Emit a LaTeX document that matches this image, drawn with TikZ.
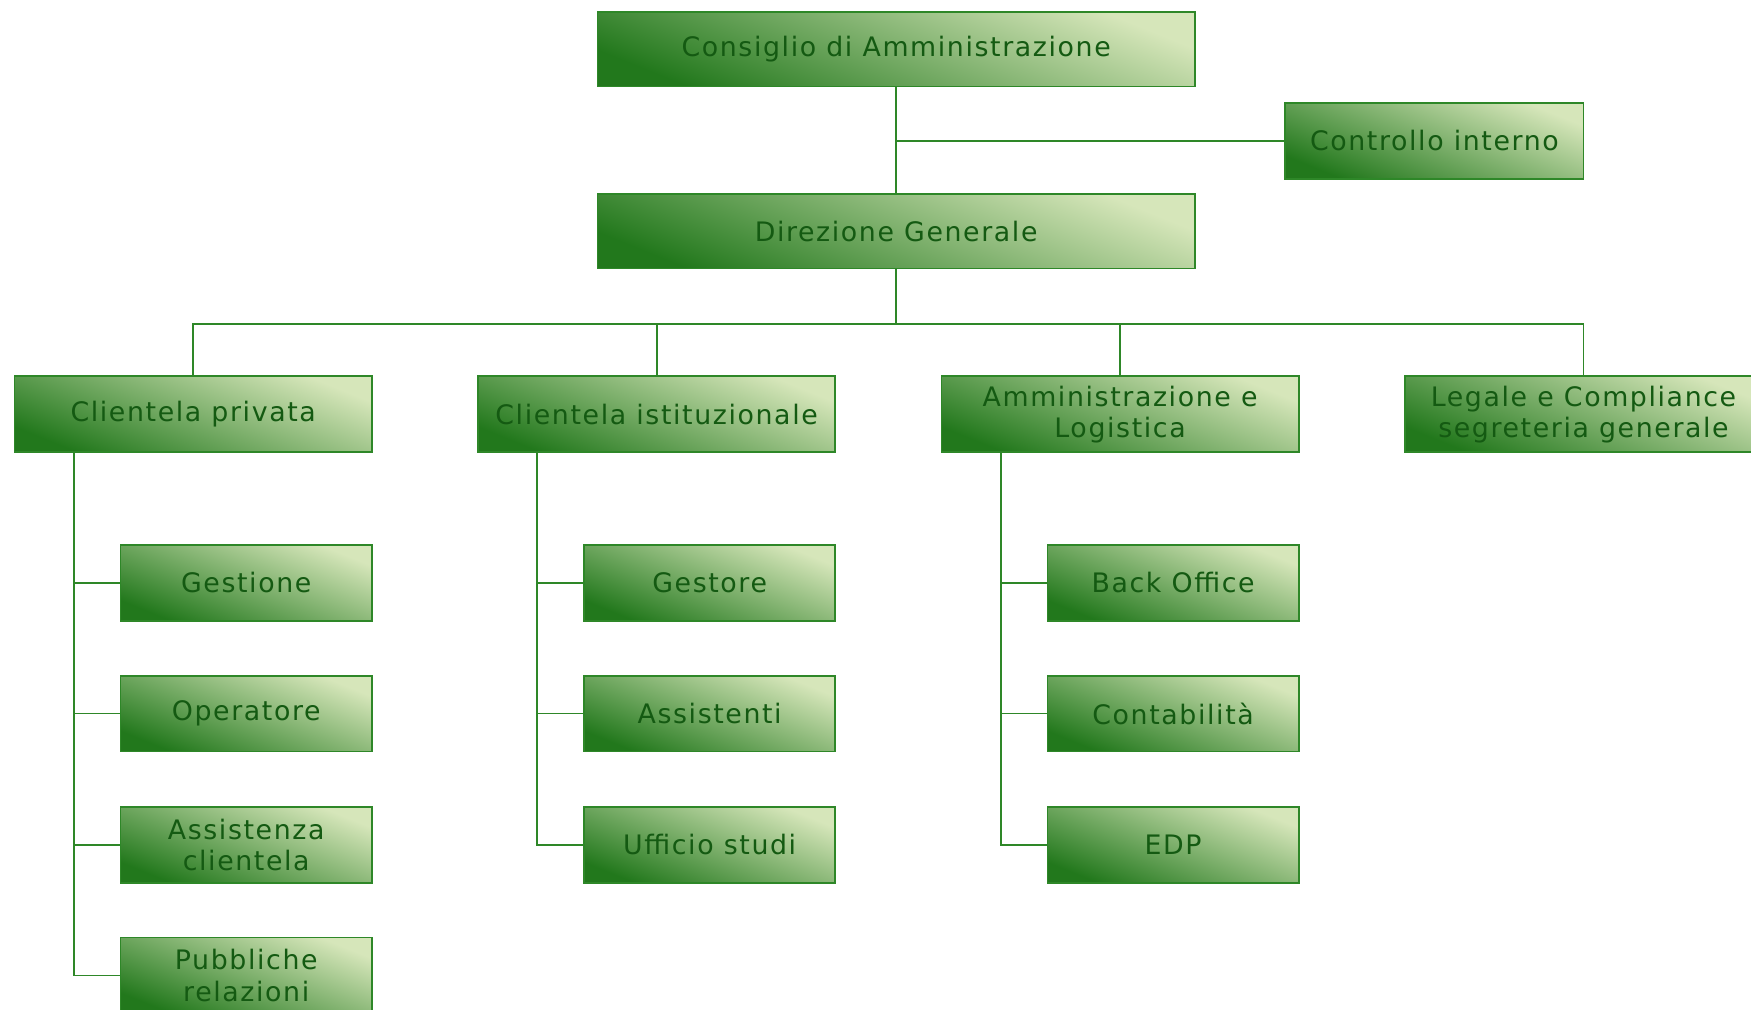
\documentclass[tikz,border=0pt]{standalone}
\usepackage{fontspec}
\setmainfont{DejaVu Sans}[LetterSpace=6]
\begin{document}
\definecolor{lineg}{RGB}{46,135,40}
\definecolor{darkg}{RGB}{34,120,28}
\definecolor{midg}{RGB}{128,174,88}
\definecolor{lightg}{RGB}{214,230,186}
\definecolor{textg}{RGB}{20,90,18}
\begin{tikzpicture}[x=0.5pt,y=-0.5pt,
  unit/.style={draw=lineg, line width=0.8pt, inner sep=0pt,
    bottom color=darkg, middle color=midg, top color=lightg, shading angle=-22,
    text=textg, font=\fontsize{12}{14}\selectfont, align=center,
    minimum width=160pt, minimum height=34pt},
  wide/.style={unit, minimum width=267.5pt, minimum height=33.5pt},
  ctrl/.style={unit, minimum width=133.5pt},
  sub/.style={unit, minimum width=112.5pt},
  link/.style={draw=lineg, line width=0.8pt}]
\useasboundingbox (0,0) rectangle (1568,904);

% top management
\node[wide] (cda) at (802.5,44) {Consiglio di Amministrazione};
\node[ctrl] (ci) at (1284.5,126) {Controllo interno};
\node[wide] (dg) at (802.5,207) {Direzione Generale};

% departments
\node[unit] (cp) at (173,371) {Clientela privata};
\node[unit] (cis) at (588,371) {Clientela istituzionale};
\node[unit] (al) at (1003,371) {Amministrazione e\\Logistica};
\node[unit] (lc) at (1418,371) {Legale e Compliance\\segreteria generale};

% offices
\node[sub] (g1) at (220.5,522) {Gestione};
\node[sub] (g2) at (220.5,639) {Operatore};
\node[sub] (g3) at (220.5,756.5) {Assistenza\\clientela};
\node[sub] (g4) at (220.5,873.5) {Pubbliche\\relazioni};

\node[sub] (h1) at (635.5,522) {Gestore};
\node[sub] (h2) at (635.5,639) {Assistenti};
\node[sub] (h3) at (635.5,756.5) {Ufficio studi};

\node[sub] (k1) at (1050.5,522) {Back Office};
\node[sub] (k2) at (1050.5,639) {Contabilità};
\node[sub] (k3) at (1050.5,756.5) {EDP};

% top connectors
\draw[link] (cda.south) -- (dg.north);
\draw[link] (ci.west) -- (cda.south |- ci.west);

% bus to departments
\coordinate (bus) at (802.5,290);
\draw[link] (dg.south) -- (bus);
\draw[link] (cp.north) |- (bus) -| (lc.north);
\draw[link] (cis.north) -- (cis.north |- bus);
\draw[link] (al.north) -- (al.north |- bus);

% spines to offices
\coordinate (sp1) at ([xshift=27pt]cp.south west);
\coordinate (sp2) at ([xshift=27pt]cis.south west);
\coordinate (sp3) at ([xshift=27pt]al.south west);
\draw[link] (sp1) |- (g4.west);
\draw[link] (sp1 |- g1.west) -- (g1.west);
\draw[link] (sp1 |- g2.west) -- (g2.west);
\draw[link] (sp1 |- g3.west) -- (g3.west);
\draw[link] (sp2) |- (h3.west);
\draw[link] (sp2 |- h1.west) -- (h1.west);
\draw[link] (sp2 |- h2.west) -- (h2.west);
\draw[link] (sp3) |- (k3.west);
\draw[link] (sp3 |- k1.west) -- (k1.west);
\draw[link] (sp3 |- k2.west) -- (k2.west);
\end{tikzpicture}
\end{document}
